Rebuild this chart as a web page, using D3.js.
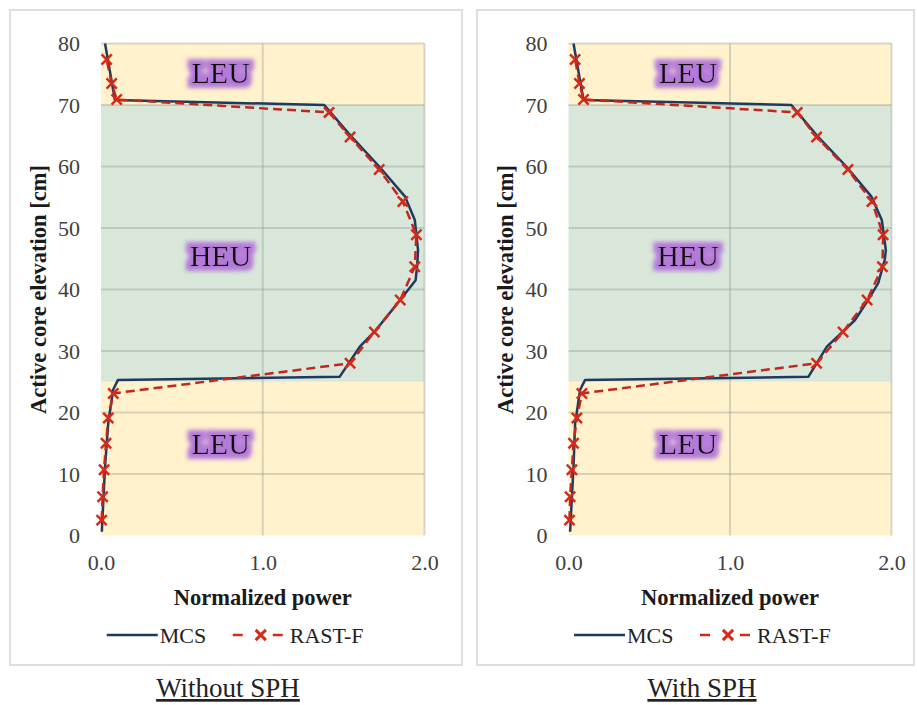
<!DOCTYPE html>
<html>
<head>
<meta charset="utf-8">
<script src="https://cdn.jsdelivr.net/npm/d3@7"></script>
<style>
  body { margin: 0; background: #fff; }
  svg text { font-family: "Liberation Serif", "DejaVu Serif", serif; }
</style>
</head>
<body>
<div id="chart"></div>
<script>
// Elevation (cm) / normalized power readings
const mcsElevLeft = [80, 70.8, 70, 65.1, 60, 55.1, 51.3, 46.4, 44, 41.5, 38.3, 33.4, 30.7, 25.8, 25.3, 23.7, 18.3, 11.2, 0.6]
const mcsPowLeft = [0.025, 0.086, 1.38, 1.54, 1.72, 1.88, 1.94, 1.96, 1.955, 1.945, 1.85, 1.70, 1.60, 1.475, 0.105, 0.075, 0.045, 0.025, 0.005]

const mcsElevRight = [80, 70.8, 70, 65.1, 60, 55.1, 51.3, 46.4, 44.8, 41, 38.3, 35, 30.7, 25.8, 25.3, 23.7, 18.2, 11.2, 0.6]
const mcsPowRight = [0.031, 0.093, 1.38, 1.536, 1.72, 1.876, 1.94, 1.965, 1.958, 1.917, 1.855, 1.773, 1.6, 1.485, 0.103, 0.072, 0.041, 0.031, 0.01]

const rastElev = [2.5, 6.3, 10.7, 15.0, 19.1, 23.1, 28.0, 33.1, 38.3, 43.7, 48.9, 54.3, 59.5, 64.8, 68.8, 70.9, 73.5, 77.4]
const rastPowLeft = [0.004, 0.01, 0.019, 0.031, 0.045, 0.076, 1.54, 1.69, 1.85, 1.94, 1.95, 1.866, 1.72, 1.54, 1.41, 0.097, 0.066, 0.035]
const rastPowRight = [0.006, 0.01, 0.021, 0.031, 0.052, 0.083, 1.536, 1.70, 1.849, 1.944, 1.948, 1.879, 1.73, 1.536, 1.416, 0.093, 0.068, 0.041]

// fuel zones along the core
const zones = [
  { name: "LEU", from: 0, to: 25, mid: 15 },
  { name: "HEU", from: 25, to: 70, mid: 45.5 },
  { name: "LEU", from: 70, to: 80, mid: 75.3 }
]
const zoneColors = { LEU: "#fff2cc", HEU: "#d8e7da" }

const xTicks = [0, 1, 2]
const yTicks = [0, 10, 20, 30, 40, 50, 60, 70, 80]
const seriesNames = ["MCS", "RAST-F"]
const captions = ["Without SPH", "With SPH"]

const mcsColor = "#1f3a5f"
const rastLine = "#c0281e"
const rastMark = "#d42a1a"

const width = 917, height = 705

const panels = [
  { frame: [10, 10, 452, 655], plot: [101, 424.5, 43.5, 535.5], capX: 228, titleX: 38,
    mcsE: mcsElevLeft, mcsP: mcsPowLeft, rastP: rastPowLeft, caption: captions[0] },
  { frame: [477, 10, 437, 655], plot: [568.5, 891.5, 43.5, 535.5], capX: 702, titleX: 505,
    mcsE: mcsElevRight, mcsP: mcsPowRight, rastP: rastPowRight, caption: captions[1] }
]

const svg = d3.select("#chart").append("svg")
  .attr("width", width)
  .attr("height", height)

// purple glow behind zone labels
const defs = svg.append("defs")
const glow = defs.append("filter").attr("id", "glow")
  .attr("x", "-30%").attr("y", "-40%").attr("width", "160%").attr("height", "180%")
glow.append("feMorphology").attr("in", "SourceAlpha").attr("operator", "dilate").attr("radius", 5).attr("result", "fat")
glow.append("feGaussianBlur").attr("in", "fat").attr("stdDeviation", 2).attr("result", "blur")
glow.append("feFlood").attr("flood-color", "#b47ad8").attr("result", "col")
glow.append("feComposite").attr("in", "col").attr("in2", "blur").attr("operator", "in").attr("result", "shadow")
const merge = glow.append("feMerge")
merge.append("feMergeNode").attr("in", "shadow")
merge.append("feMergeNode").attr("in", "SourceGraphic")

panels.forEach(p => {
  const [fx, fy, fw, fh] = p.frame
  const [x0, x1, y0, y1] = p.plot

  svg.append("rect")
    .attr("x", fx).attr("y", fy).attr("width", fw).attr("height", fh)
    .attr("fill", "#fff").attr("stroke", "#dedede").attr("stroke-width", 2)

  const x = d3.scaleLinear().domain([0, 2]).range([x0, x1])
  const y = d3.scaleLinear().domain([0, 80]).range([y1, y0])

  const g = svg.append("g")

  // zone bands
  g.selectAll(".zone").data(zones).join("rect")
    .attr("x", x(0)).attr("width", x(2) - x(0))
    .attr("y", d => y(d.to)).attr("height", d => y(d.from) - y(d.to))
    .attr("fill", d => zoneColors[d.name])

  // gridlines
  g.selectAll(".hg").data(yTicks.filter(t => t > 0)).join("line")
    .attr("x1", x(0)).attr("x2", x(2))
    .attr("y1", d => y(d)).attr("y2", d => y(d))
    .attr("stroke", "rgba(140,150,140,0.35)").attr("stroke-width", 2)
  g.selectAll(".vg").data(xTicks.filter(t => t > 0)).join("line")
    .attr("x1", d => x(d)).attr("x2", d => x(d))
    .attr("y1", y(0)).attr("y2", y(80))
    .attr("stroke", "rgba(140,150,140,0.35)").attr("stroke-width", 2)

  // zone labels
  g.selectAll(".zl").data(zones).join("text")
    .attr("x", x(0.74)).attr("y", d => y(d.mid))
    .attr("text-anchor", "middle").attr("dominant-baseline", "central")
    .attr("font-size", 30).attr("fill", "#111")
    .attr("filter", "url(#glow)")
    .text(d => d.name)

  // axes
  const yAxis = g.append("g").attr("transform", `translate(${x0},0)`)
    .call(d3.axisLeft(y).tickValues(yTicks).tickSize(0).tickPadding(21))
  const xAxis = g.append("g").attr("transform", `translate(0,${y1})`)
    .call(d3.axisBottom(x).tickValues(xTicks).tickSize(0).tickPadding(19).tickFormat(d3.format(".1f")))
  ;[yAxis, xAxis].forEach(a => {
    a.select(".domain").remove()
    a.selectAll("text").attr("font-size", 22).attr("fill", "#404040")
  })

  // axis titles
  g.append("text")
    .attr("transform", `translate(${p.titleX},${(y0 + y1) / 2}) rotate(-90)`)
    .attr("text-anchor", "middle").attr("dominant-baseline", "central")
    .attr("font-size", 22.5).attr("font-weight", "bold").attr("fill", "#1a1a1a")
    .text("Active core elevation [cm]")

  g.append("text")
    .attr("x", (x0 + x1) / 2).attr("y", 605)
    .attr("text-anchor", "middle")
    .attr("font-size", 22.5).attr("font-weight", "bold").attr("fill", "#1a1a1a")
    .text("Normalized power")

  // MCS line
  const mcs = p.mcsE.map((e, i) => [p.mcsP[i], e])
  g.append("path").datum(mcs)
    .attr("d", d3.line().x(d => x(d[0])).y(d => y(d[1])))
    .attr("fill", "none").attr("stroke", mcsColor).attr("stroke-width", 2.5)
    .attr("stroke-linejoin", "round")

  // RAST-F dashed line with x markers
  const rast = rastElev.map((e, i) => [p.rastP[i], e])
  g.append("path").datum(rast)
    .attr("d", d3.line().x(d => x(d[0])).y(d => y(d[1])))
    .attr("fill", "none").attr("stroke", rastLine).attr("stroke-width", 2.5)
    .attr("stroke-dasharray", "9,5")
  const cross = d3.symbol().type(d3.symbolX).size(70)
  g.selectAll(".mk").data(rast).join("path")
    .attr("transform", d => `translate(${x(d[0])},${y(d[1])})`)
    .attr("d", cross)
    .attr("fill", "none").attr("stroke", rastMark).attr("stroke-width", 2.5)

  // legend
  const cx = (x0 + x1) / 2
  const ly = 635
  const leg = g.append("g")
  leg.append("line").attr("x1", cx - 156).attr("x2", cx - 105).attr("y1", ly).attr("y2", ly)
    .attr("stroke", mcsColor).attr("stroke-width", 2.5)
  leg.append("text").attr("x", cx - 103).attr("y", ly + 8).attr("font-size", 22).attr("fill", "#222")
    .text(seriesNames[0])
  leg.append("line").attr("x1", cx - 30).attr("x2", cx - 20).attr("y1", ly).attr("y2", ly)
    .attr("stroke", rastMark).attr("stroke-width", 2.5)
  leg.append("line").attr("x1", cx + 10).attr("x2", cx + 20).attr("y1", ly).attr("y2", ly)
    .attr("stroke", rastMark).attr("stroke-width", 2.5)
  leg.append("path").attr("transform", `translate(${cx - 2},${ly})`).attr("d", cross)
    .attr("fill", "none").attr("stroke", rastMark).attr("stroke-width", 3)
  leg.append("text").attr("x", cx + 27).attr("y", ly + 8).attr("font-size", 22).attr("fill", "#222")
    .text(seriesNames[1])

  // caption
  svg.append("text")
    .attr("x", p.capX).attr("y", 697)
    .attr("text-anchor", "middle")
    .attr("font-size", 27).attr("fill", "#222")
    .style("text-decoration", "underline")
    .text(p.caption)
})
</script>
</body>
</html>
